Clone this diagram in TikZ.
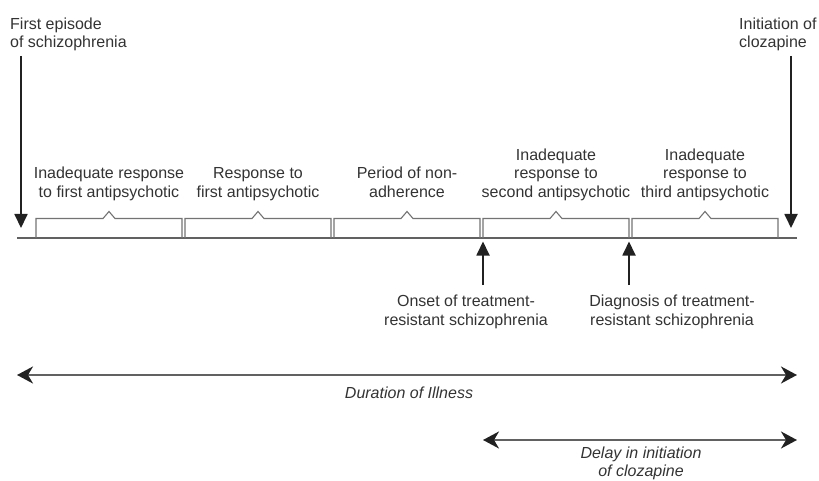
\documentclass[tikz,border=0pt]{standalone}
\usepackage{fontspec}
\setmainfont{Liberation Sans}
\usetikzlibrary{arrows.meta}
\definecolor{arrowdark}{gray}{0.13}
\definecolor{linegray}{gray}{0.38}
\definecolor{bracegray}{gray}{0.45}
\definecolor{txtgray}{gray}{0.2}
\tikzset{
  lbl/.style={font=\fontsize{16}{18.3}\selectfont, text=txtgray, align=center, inner sep=0pt, anchor=base},
  marker/.style={draw=arrowdark, line width=1.8pt, -{Triangle[length=14pt, width=13pt]}},
  span/.style={draw=linegray, line width=2.2pt, {Stealth[length=16pt, width=17pt, inset=5pt, color=arrowdark]}-{Stealth[length=16pt, width=17pt, inset=5pt, color=arrowdark]}}
}
\begin{document}
\begin{tikzpicture}[x=1pt, y=-1pt]
                \useasboundingbox (0,0) rectangle (819,481);
                % events at the two ends (base = last line)
                \node[lbl, anchor=base west, align=left] (firstep) at (10,48) {First episode\\of schizophrenia};
                \node[lbl, anchor=base west, align=left] (initclz) at (739,48) {Initiation of\\clozapine};
                \coordinate (fe-top) at (21,56);
                \coordinate (fe-tip) at (21,228);
                \coordinate (ic-top) at (791,56);
                \coordinate (ic-tip) at (791,228);
                \draw[marker] (fe-top) -- (fe-tip);
                \draw[marker] (ic-top) -- (ic-tip);
                % time line
                \coordinate (tl-start) at (17,238);
                \coordinate (tl-end) at (797,238);
                \draw[linegray, line width=1.6pt] (tl-start) -- (tl-end);
                % periods
                \foreach \i in {0,...,4} {
                  \pgfmathsetmacro{\xl}{36+149*\i}
                  \pgfmathsetmacro{\xr}{\xl+146}
                  \pgfmathsetmacro{\xc}{\xl+73}
                  \draw[bracegray, line width=1.1pt] (\xl,238) -- (\xl,218.5) -- (\xc-6,218.5) -- (\xc,211.5) -- (\xc+6,218.5) -- (\xr,218.5) -- (\xr,238);
                }
                \node[lbl] (period1) at (109,197) {Inadequate response\\to first antipsychotic};
                \node[lbl] (period2) at (258,197) {Response to\\first antipsychotic};
                \node[lbl] (period3) at (407,197) {Period of non-\\adherence};
                \node[lbl] (period4) at (556,197) {Inadequate\\response to\\second antipsychotic};
                \node[lbl] (period5) at (705,197) {Inadequate\\response to\\third antipsychotic};
                % treatment resistance
                \node[lbl] (onset) at (466,325) {Onset of treatment-\\resistant schizophrenia};
                \node[lbl] (diagn) at (672,325) {Diagnosis of treatment-\\resistant schizophrenia};
                \coordinate (on-foot) at (483,285);
                \coordinate (on-tip) at (483,241.5);
                \coordinate (dg-foot) at (629,285);
                \coordinate (dg-tip) at (629,241.5);
                \draw[marker] (on-foot) -- (on-tip);
                \draw[marker] (dg-foot) -- (dg-tip);
                % spans
                \coordinate (du-start) at (17,375);
                \coordinate (du-end) at (797,375);
                \draw[span] (du-start) -- (du-end);
                \node[lbl, font=\fontsize{16}{18.3}\selectfont\itshape] (durat) at (409,398) {Duration of Illness};
                \coordinate (dl-start) at (483,440);
                \coordinate (dl-end) at (797,440);
                \draw[span] (dl-start) -- (dl-end);
                \node[lbl, font=\fontsize{16}{17.5}\selectfont\itshape] (delay) at (641,476) {Delay in initiation\\of clozapine};
              \end{tikzpicture}
\end{document}
